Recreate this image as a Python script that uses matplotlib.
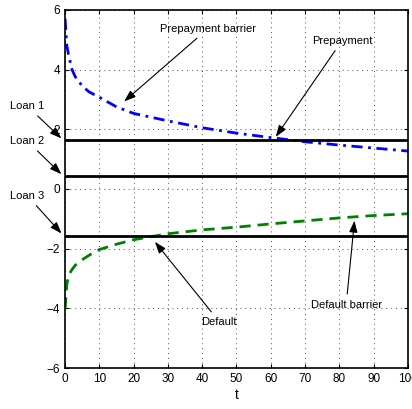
import numpy as np
import matplotlib.pyplot as plt

plt.rcParams['font.family'] = ['Liberation Sans', 'DejaVu Sans']

# valores
t_barrera = [0, 0.5, 1, 2, 3, 5, 7, 10, 15, 20, 30, 40, 50, 60, 70, 80, 90, 100]
prepago = [5.7, 4.8, 4.5, 4.0, 3.75, 3.45, 3.25, 3.07, 2.75, 2.53, 2.28, 2.05, 1.87, 1.72, 1.58, 1.47, 1.37, 1.27]
impago = [-4.0, -3.2, -2.9, -2.7, -2.55, -2.37, -2.22, -2.03, -1.85, -1.7, -1.5, -1.37, -1.28, -1.17, -1.07, -0.97, -0.89, -0.83]

prestamos = [1.63, 0.43, -1.56]
nombres_prestamos = ['Loan 1', 'Loan 2', 'Loan 3']

fig = plt.figure(figsize=(4.12, 4.09), dpi=100)
ax = fig.add_axes([0.158, 0.10, 0.832, 0.876])

ax.plot(t_barrera, prepago, color=(0, 0, 1), linestyle=(0, (4, 2, 1, 2)), linewidth=2)
ax.plot(t_barrera, impago, color=(0, 0.5, 0), linestyle=(0, (4, 2.5)), linewidth=2)
for nivel in prestamos:
    ax.axhline(nivel, color='black', linewidth=2)

ax.set_xlim(0, 100)
ax.set_ylim(-6, 6)
ax.set_xticks(np.arange(0, 101, 10))
ax.set_yticks(np.arange(-6, 7, 2))
ax.tick_params(direction='in', top=True, right=True, labelsize=8.5, length=3)
ax.grid(True, linestyle=(0, (1, 4)), color='black', linewidth=0.7, alpha=0.7)
ax.set_xlabel('t', fontsize=10, labelpad=2)
for s in ax.spines.values():
    s.set_linewidth(1.2)

flecha = dict(arrowstyle='-|>,head_length=0.5,head_width=0.18', color='black', lw=0.8, mutation_scale=14)
tam = 8

ax.annotate('Prepayment barrier', xy=(16.6, 2.87), xytext=(41.7, 5.37),
            ha='center', va='center', fontsize=tam, arrowprops=flecha)
ax.annotate('Prepayment', xy=(61, 1.67), xytext=(80.8, 4.97),
            ha='center', va='center', fontsize=tam, arrowprops=flecha)
ax.annotate('Default', xy=(25.7, -1.7), xytext=(45, -4.45),
            ha='center', va='center', fontsize=tam, arrowprops=flecha)
ax.annotate('Default barrier', xy=(84.5, -0.97), xytext=(82, -3.87),
            ha='center', va='center', fontsize=tam, arrowprops=flecha)

for nombre, nivel, y_texto in zip(nombres_prestamos, prestamos, [2.77, 1.6, -0.23]):
    ax.annotate(nombre, xy=(-0.5, nivel), xytext=(-11, y_texto),
                ha='center', va='center', fontsize=tam, arrowprops=flecha,
                annotation_clip=False)

fig.savefig('out.png', dpi=100)
